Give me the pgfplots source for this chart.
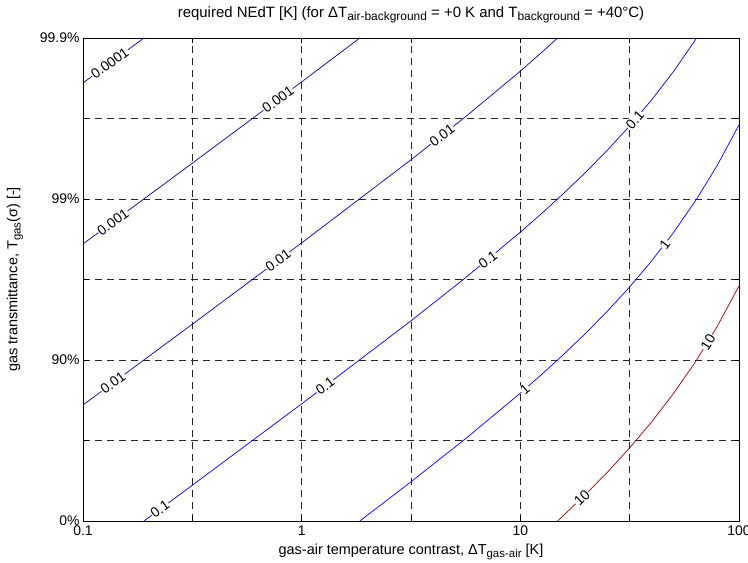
\documentclass[border=0pt]{standalone}
\usepackage{pgfplots}
\pgfplotsset{compat=1.18}
\usepackage{fontspec}
\setmainfont{Liberation Sans}
\newcommand\sub[1]{\raisebox{-0.4ex}{\fontsize{11.5}{12}\selectfont #1}}
\newcommand\subt[1]{\raisebox{-0.4ex}{\fontsize{12}{13}\selectfont #1}}
\definecolor{c1}{rgb}{0,0,0.55}
\definecolor{c2}{rgb}{0,0,0.62}
\definecolor{c3}{rgb}{0,0,0.70}
\definecolor{c4}{rgb}{0,0,0.80}
\definecolor{c5}{rgb}{0,0,1}
\definecolor{c6}{rgb}{0.6,0,0}
\begin{document}
\begin{tikzpicture}
\begin{axis}[
  scale only axis, width=656bp, height=483bp,
  xmode=log, xmin=0.1, xmax=100, ymin=0, ymax=3,
  log basis x=10,
  xtick={0.1,0.31623,1,3.1623,10,31.623,100},
  xticklabels={0.1,,1,,10,,100},
  ytick={0,0.5,1,1.5,2,2.5,3},
  yticklabels={0\%,,90\%,,99\%,,99.9\%},
  minor xtick={}, minor ytick={},
  tick align=inside, major tick length=5bp,
  tick style={black, line width=0.6bp},
  xtick pos=both, ytick pos=both,
  xticklabel pos=bottom, yticklabel pos=left,
  grid=major,
  major grid style={black!85, line width=0.6bp, dash pattern=on 7bp off 5bp},
  axis line style={black, line width=0.8bp},
  every tick label/.append style={font=\fontsize{14}{16}\selectfont, text=black},
  xticklabel style={yshift=-1.5bp},
  every axis title/.style={at={(axis description cs:0.5,1.0476)}, anchor=center, font=\fontsize{15}{17}\selectfont},
  every axis x label/.style={at={(axis description cs:0.5,-0.0642)}, anchor=center, font=\fontsize{14.5}{16}\selectfont},
  every axis y label/.style={at={(axis description cs:-0.1037,0.5)}, anchor=center, rotate=90, font=\fontsize{14.5}{16}\selectfont},
  title={required NEdT [K] (for ΔT\subt{air-background} = +0 K and T\subt{background} = +40°C)},
  xlabel={gas-air temperature contrast, ΔT\sub{gas-air} [K]},
  ylabel={gas transmittance, T\sub{gas}(σ) [-]},
  every axis plot/.append style={line width=0.7bp},
  clip=true,
]
% c = 0.0001
\addplot[c1] coordinates {(0.1,2.7207) (0.19,3.0)};
% c = 0.001
\addplot[c2] coordinates {(0.1,1.7207) (0.31623,2.2223) (1,2.7274) (1.845,3.0)};
% c = 0.01
\addplot[c3] coordinates {(0.1,0.7207) (0.31623,1.2223) (1,1.7274) (3.1623,2.2434) (5.6234,2.5116) (10,2.794) (12.589,2.9132) (14.81,3.0)};
% c = 0.1
\addplot[c4] coordinates {(0.19,0) (0.31623,0.2223) (1,0.7274) (3.1623,1.2434) (5.6234,1.5116) (10,1.794) (12.589,1.9132) (15.849,2.0373) (19.953,2.1676) (25.119,2.3059) (31.623,2.454) (39.811,2.6146) (50.119,2.7909) (63.096,2.9869) (64.0,3.0)};
% c = 1
\addplot[c5] coordinates {(1.845,0) (3.1623,0.2434) (5.6234,0.5116) (10,0.794) (12.589,0.9132) (15.849,1.0373) (19.953,1.1676) (25.119,1.3059) (31.623,1.454) (39.811,1.6146) (50.119,1.7909) (63.096,1.9869) (79.433,2.2078) (100,2.46)};
% c = 10
\addplot[c6] coordinates {(14.8,0) (15.849,0.0373) (19.953,0.1676) (25.119,0.3059) (31.623,0.454) (39.811,0.6146) (50.119,0.7909) (63.096,0.9869) (79.433,1.2078) (100,1.46)};
% contour labels
\begin{scope}[every node/.style={fill=white, inner sep=0.6bp, font=\fontsize{14}{16}\selectfont}]
\node[rotate=36] at (axis cs:0.1327,2.844) {0.0001};
\node[rotate=36] at (axis cs:0.7798,2.618) {0.001};
\node[rotate=36] at (axis cs:0.1371,1.858) {0.001};
\node[rotate=37] at (axis cs:4.385,2.394) {0.01};
\node[rotate=36] at (axis cs:0.7798,1.618) {0.01};
\node[rotate=36] at (axis cs:0.1371,0.858) {0.01};
\node[rotate=36] at (axis cs:0.2249,0.074) {0.1};
\node[rotate=36] at (axis cs:1.279,0.837) {0.1};
\node[rotate=37] at (axis cs:7.112,1.624) {0.1};
\node[rotate=49] at (axis cs:33.42,2.491) {0.1};
\node[rotate=41] at (axis cs:10.5,0.819) {1};
\node[rotate=53] at (axis cs:45.8,1.72) {1};
\node[rotate=44] at (axis cs:19.14,0.143) {10};
\node[rotate=59] at (axis cs:72.1,1.112) {10};
\end{scope}
\coordinate (SW) at (rel axis cs:0,0);
\coordinate (NE) at (rel axis cs:1,1);
\end{axis}
\pgfresetboundingbox
\path[use as bounding box] ([xshift=-83bp,yshift=-42bp]SW) rectangle ([xshift=9bp,yshift=38bp]NE);
\end{tikzpicture}
\end{document}
